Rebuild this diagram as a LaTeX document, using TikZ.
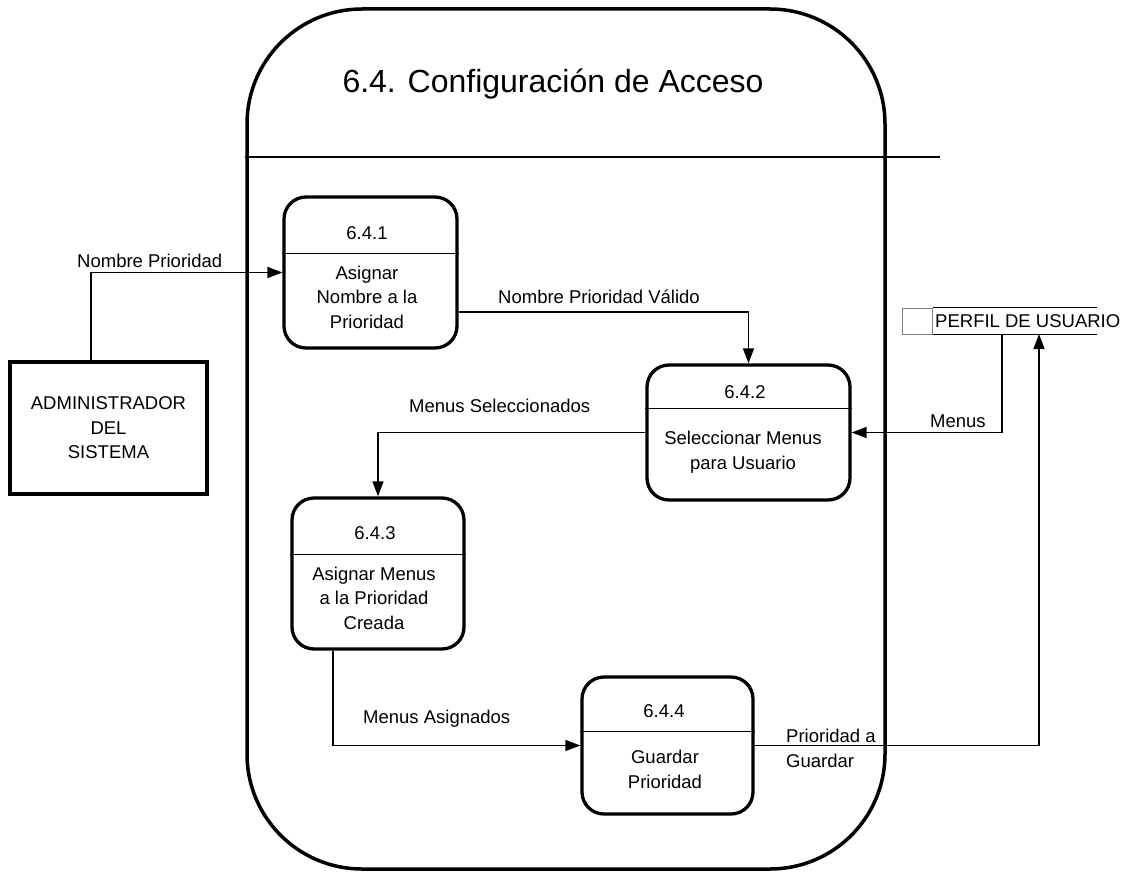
\documentclass[tikz,border=0pt]{standalone}
\usepackage{fontspec}
\setmainfont{Liberation Sans}
\usetikzlibrary{arrows.meta,positioning}

\begin{document}
\begin{tikzpicture}[
  x=1pt, y=-1pt,
  font=\fontsize{18.5}{24.5}\selectfont,
  frame/.style={draw, line width=3.5pt, rounded corners=115pt, minimum width=638pt, minimum height=860pt, inner sep=0},
  proc/.style={draw, line width=3.3pt, rounded corners=22pt, inner sep=0},
  extbox/.style={draw, line width=3.5pt, minimum width=197pt, minimum height=132pt, align=center, inner sep=0},
  idbox/.style={draw=gray, line width=1pt, minimum width=30pt, minimum height=26pt, inner sep=0},
  num/.style={anchor=base, inner sep=0},
  ptext/.style={anchor=base, align=center, inner sep=0},
  lbl/.style={anchor=base west, align=left, inner sep=0},
  sep/.style={line width=1pt},
  flow/.style={->, line width=1.5pt},
  >={Triangle[length=15pt,width=11pt]}
]
\useasboundingbox (0,0) rectangle (1134,872);

% process boundary
\node[frame] (frame) at (566,439) {};
\node[anchor=base, inner sep=0, font=\fontsize{32}{38}\selectfont] (title) at (553,93) {6.4. Configuración de Acceso};
\coordinate (hline) at (940,157);
\draw[line width=1.3pt] (frame.west |- hline) -- (hline);

% external entity
\node[extbox] (admin) at (108.5,428) {ADMINISTRADOR\\DEL\\SISTEMA};

% data store
\node[idbox] (sid) at (917,321) {};
\node[anchor=west, inner sep=0] (store) at (935,321) {PERFIL DE USUARIO};
\coordinate (stend) at (1097,321);
\draw[line width=1.3pt] (sid.north east) -- (sid.north east -| stend);
\draw[line width=1.3pt] (sid.south east) -- (sid.south east -| stend);
\coordinate (storeout) at (1002,334);
\coordinate (storein) at (1039,334);

% processes (text nodes sit on the baseline of their last line)
\node[proc, minimum width=173pt, minimum height=151pt] (p1) at (370.5,272.5) {};
\node[num] (n1) at (367,239) {6.4.1};
\node[ptext] (t1) at (367,328) {Asignar\\Nombre a la\\Prioridad};
\coordinate (d1) at (0,253);
\draw[sep] (p1.west |- d1) -- (p1.east |- d1);

\node[proc, minimum width=203pt, minimum height=135pt] (p2) at (748.5,432.5) {};
\node[num] (n2) at (745,398) {6.4.2};
\node[ptext] (t2) at (743,469) {Seleccionar Menus\\para Usuario};
\coordinate (d2) at (0,408);
\draw[sep] (p2.west |- d2) -- (p2.east |- d2);

\node[proc, minimum width=172pt, minimum height=151pt] (p3) at (378,573.5) {};
\node[num] (n3) at (375,539) {6.4.3};
\node[ptext] (t3) at (374,629) {Asignar Menus\\a la Prioridad\\Creada};
\coordinate (d3) at (0,554);
\draw[sep] (p3.west |- d3) -- (p3.east |- d3);

\node[proc, minimum width=171pt, minimum height=137pt] (p4) at (667.5,745.5) {};
\node[num] (n4) at (664,717) {6.4.4};
\node[ptext] (t4) at (665,788) {Guardar\\Prioridad};
\coordinate (d4) at (0,731);
\draw[sep] (p4.west |- d4) -- (p4.east |- d4);

% flows
\draw[flow] ([xshift=-17.5pt]admin.north) |- (p1.west);
\node[lbl] (l1) at (77,267) {Nombre Prioridad};

\draw[flow] ([yshift=-39.5pt]p1.east) -| (p2.north);
\node[lbl] (l2) at (498,303) {Nombre Prioridad Válido};

\draw[flow] (storeout) |- (p2.east);
\node[lbl] (l3) at (930,427) {Menus};

\draw[flow] (p2.west) -| (p3.north);
\node[lbl] (l4) at (409,412) {Menus Seleccionados};

\draw[flow] ([xshift=-45pt]p3.south) |- (p4.west);
\node[lbl] (l5) at (363,723) {Menus Asignados};

\draw[flow] (p4.east) -| (storein);
\node[lbl] (l6) at (786,767) {Prioridad a\\Guardar};
\end{tikzpicture}
\end{document}
